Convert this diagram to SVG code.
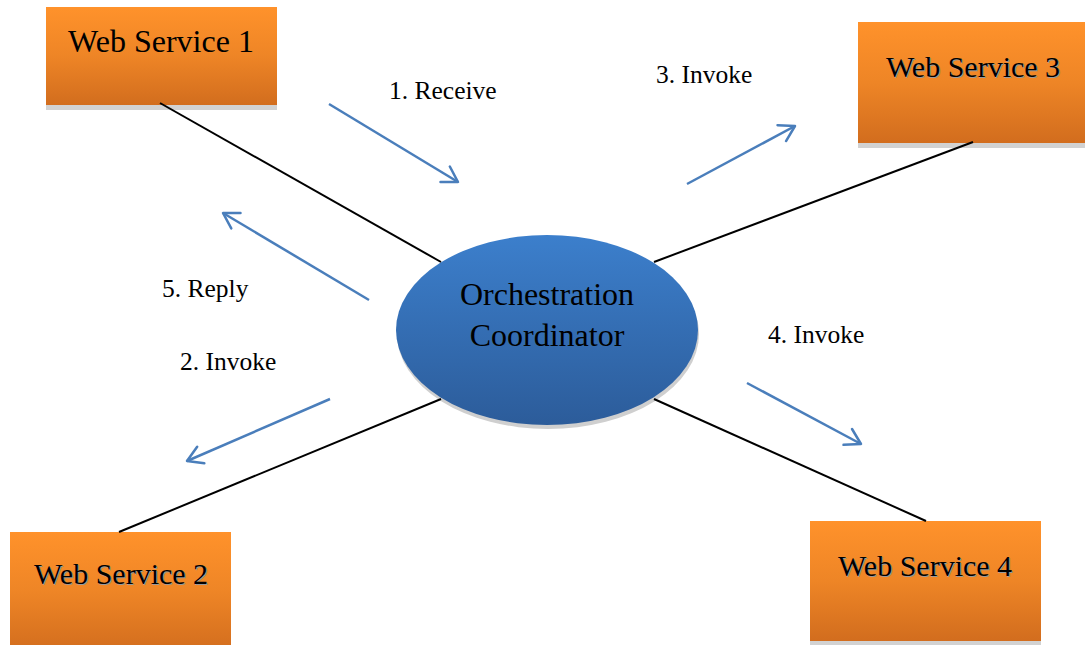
<svg xmlns="http://www.w3.org/2000/svg" width="1085" height="645" viewBox="0 0 1085 645">
  <style>
    .box { fill: url(#orange); }
    .boxShadow { fill: #d2d2d2; }
    .label { font-family: "Liberation Serif", "Times New Roman", serif; fill: #000; }
    .wsText { font-size: 30px; text-anchor: middle; }
    .wsShadow { fill: #9a9a9a; }
    .step { font-size: 25.5px; }
    .link { stroke: #000; stroke-width: 2; fill: none; }
    .flow { stroke: #4a7ebb; stroke-width: 2.5; fill: none; marker-end: url(#open); }
  </style>
  <defs>
    <linearGradient id="orange" x1="0" y1="0" x2="0" y2="1">
      <stop offset="0" stop-color="#ff922b"/>
      <stop offset="0.5" stop-color="#ee8526"/>
      <stop offset="1" stop-color="#d26d1e"/>
    </linearGradient>
    <linearGradient id="blue" x1="0" y1="0" x2="0" y2="1">
      <stop offset="0" stop-color="#3c7fcc"/>
      <stop offset="1" stop-color="#2c5c9a"/>
    </linearGradient>
    <marker id="open" markerUnits="userSpaceOnUse" markerWidth="24" markerHeight="24" refX="20" refY="12" orient="auto" overflow="visible">
      <path d="M5,3 L20,12 L5,21" stroke="#4a7ebb" stroke-width="2.5" fill="none" stroke-linecap="round" stroke-linejoin="round"/>
    </marker>
  </defs>

  <rect width="1085" height="645" fill="#fff"/>

  <g id="ws1">
    <rect class="boxShadow" x="46" y="12" width="231" height="98"/>
    <rect class="box" x="46" y="7" width="231" height="98"/>
    <text class="label" x="161" y="52" font-size="32" text-anchor="middle">Web Service 1</text>
  </g>

  <g id="ws3">
    <rect class="boxShadow" x="858" y="27" width="230" height="121"/>
    <rect class="box" x="858" y="22" width="230" height="121"/>
    <text class="label wsText wsShadow" x="974" y="78">Web Service 3</text>
    <text class="label wsText" x="973" y="77">Web Service 3</text>
  </g>

  <g id="ws2">
    <rect class="boxShadow" x="10" y="537" width="221" height="120"/>
    <rect class="box" x="10" y="532" width="221" height="120"/>
    <text class="label wsText wsShadow" x="122" y="585">Web Service 2</text>
    <text class="label wsText" x="121" y="584">Web Service 2</text>
  </g>

  <g id="ws4">
    <rect class="boxShadow" x="810" y="526" width="231" height="120"/>
    <rect class="box" x="810" y="521" width="231" height="120"/>
    <text class="label wsText wsShadow" x="926" y="577">Web Service 4</text>
    <text class="label wsText" x="925" y="576">Web Service 4</text>
  </g>

  <g id="coordinator">
    <ellipse cx="548" cy="334" rx="151" ry="95" fill="#cfcfcf"/>
    <ellipse cx="547" cy="330" rx="151" ry="95" fill="url(#blue)"/>
    <text class="label" x="547" y="305" font-size="32" text-anchor="middle">Orchestration</text>
    <text class="label" x="547" y="346" font-size="32" text-anchor="middle">Coordinator</text>
  </g>

  <!-- connectors: black links to the coordinator and blue message arrows -->
  <g id="connectors">
    <line class="link" x1="160" y1="103" x2="441" y2="262"/>
    <line class="link" x1="973" y1="142" x2="654" y2="262"/>
    <line class="link" x1="119" y1="532" x2="441" y2="399"/>
    <line class="link" x1="654" y1="399" x2="926" y2="521"/>

    <line class="flow" x1="329" y1="104" x2="458" y2="182"/>
    <line class="flow" x1="687" y1="184" x2="795" y2="126"/>
    <line class="flow" x1="369" y1="300" x2="223" y2="213"/>
    <line class="flow" x1="330" y1="399" x2="187" y2="461"/>
    <line class="flow" x1="747" y1="383" x2="861" y2="444"/>
  </g>

  <g id="step-labels">
    <text class="label step" x="389" y="99">1. Receive</text>
    <text class="label step" x="656" y="83">3. Invoke</text>
    <text class="label step" x="162" y="297">5. Reply</text>
    <text class="label step" x="180" y="370">2. Invoke</text>
    <text class="label step" x="768" y="343">4. Invoke</text>
  </g>
</svg>
